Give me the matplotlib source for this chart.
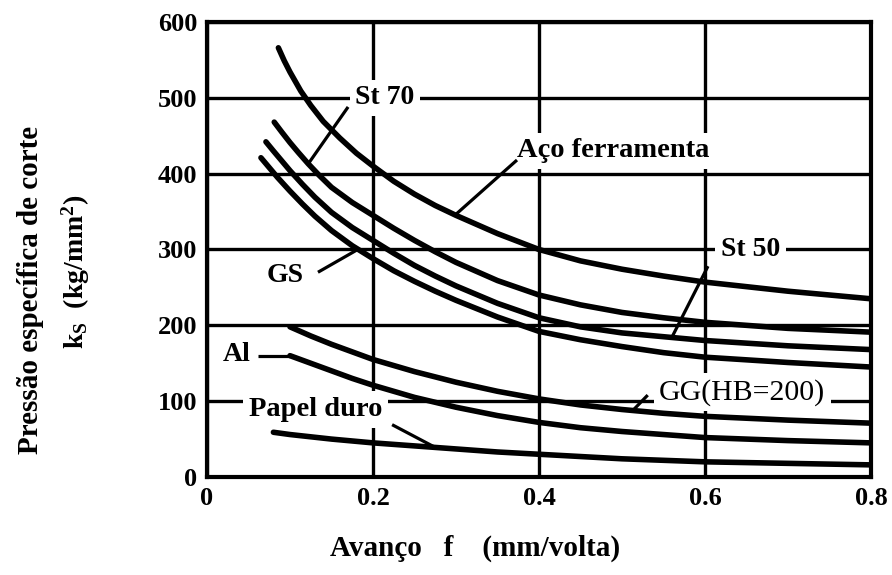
import numpy as np
import matplotlib
matplotlib.use("Agg")
import matplotlib.pyplot as plt

plt.rcParams['font.family'] = ['Liberation Serif', 'DejaVu Serif']
plt.rcParams['font.weight'] = 'bold'
plt.rcParams['mathtext.fontset'] = 'custom'
plt.rcParams['mathtext.rm'] = 'Liberation Serif:bold'
plt.rcParams['mathtext.it'] = 'Liberation Serif:bold'
plt.rcParams['mathtext.default'] = 'rm'

# ---- data (feed f in mm/rev, specific cutting pressure ks in kg/mm^2) ----
aco_x = [0.086, 0.093, 0.10, 0.113, 0.125, 0.14, 0.16, 0.18, 0.20, 0.225, 0.25,
         0.275, 0.30, 0.35, 0.40, 0.45, 0.50, 0.55, 0.60, 0.70, 0.80]
aco_y = [566, 549, 534, 509, 490, 469, 447, 427, 410, 390, 373,
         358, 345, 321, 300, 285, 274, 265, 257, 245, 235]

st70_x = [0.081, 0.09, 0.10, 0.11, 0.122, 0.135, 0.15, 0.175, 0.20, 0.225, 0.25,
          0.275, 0.30, 0.35, 0.40, 0.45, 0.50, 0.55, 0.60, 0.70, 0.80]
st70_y = [468, 455, 441, 428, 413, 398, 382, 362, 345, 328, 312,
          297, 283, 259, 240, 227, 217, 210, 204, 196, 191]

st50_x = [0.071, 0.08, 0.09, 0.10, 0.115, 0.13, 0.15, 0.175, 0.20, 0.225, 0.25,
          0.275, 0.30, 0.35, 0.40, 0.45, 0.50, 0.55, 0.60, 0.70, 0.80]
st50_y = [442, 430, 417, 404, 386, 369, 349, 329, 312, 295, 279,
          265, 252, 229, 210, 198, 190, 185, 180, 173, 168]

gs_x = [0.065, 0.075, 0.085, 0.10, 0.115, 0.13, 0.15, 0.175, 0.20, 0.225, 0.25,
        0.275, 0.30, 0.35, 0.40, 0.45, 0.50, 0.55, 0.60, 0.70, 0.80]
gs_y = [421, 408, 395, 377, 360, 344, 325, 305, 288, 272, 258,
        245, 233, 211, 192, 181, 172, 164, 158, 151, 145]

gg_x = [0.10, 0.125, 0.15, 0.175, 0.20, 0.25, 0.30, 0.35, 0.40, 0.45, 0.50,
        0.55, 0.60, 0.70, 0.80]
gg_y = [198, 186, 175, 165, 155, 139, 125, 113, 103, 95, 89,
        84, 80, 75, 71]

al_x = [0.10, 0.125, 0.15, 0.175, 0.20, 0.25, 0.30, 0.35, 0.40, 0.45, 0.50,
        0.55, 0.60, 0.70, 0.80]
al_y = [160, 150, 140, 130, 121, 105, 92, 81, 72, 65, 60,
        56, 52, 48, 45]

papel_x = [0.08, 0.10, 0.15, 0.20, 0.25, 0.30, 0.35, 0.40, 0.50, 0.60, 0.70, 0.80]
papel_y = [59, 56, 50, 45, 41, 37, 33, 30, 24, 20, 18, 16]

x_ticks = [0, 0.2, 0.4, 0.6, 0.8]
x_tick_labels = ['0', '0.2', '0.4', '0.6', '0.8']
y_ticks = [0, 100, 200, 300, 400, 500, 600]
y_tick_labels = ['0', '100', '200', '300', '400', '500', '600']

curves = [
    ('Aço ferramenta', aco_x, aco_y),
    ('St 70', st70_x, st70_y),
    ('St 50', st50_x, st50_y),
    ('GS', gs_x, gs_y),
    ('GG(HB=200)', gg_x, gg_y),
    ('Al', al_x, al_y),
    ('Papel duro', papel_x, papel_y),
]

# label: (text position, leader start, leader end x on the curve, ha, weight, size)
labels = {
    'St 70': ((0.2145, 500), (0.170, 488), 0.122, 'center', 'bold', 20),
    'Aço ferramenta': ((0.374, 430), (0.3735, 418), 0.299, 'left', 'bold', 20.5),
    'St 50': ((0.655, 300), (0.6036, 278), 0.560, 'center', 'bold', 20),
    'GS': ((0.094, 266), (0.1337, 270), 0.182, 'center', 'bold', 20),
    'Al': ((0.036, 161), (0.0614, 160), 0.100, 'center', 'bold', 20),
    'Papel duro': ((0.131, 89), (0.223, 69), 0.275, 'center', 'bold', 20.5),
    'GG(HB=200)': ((0.645, 112), (0.531, 108), 0.513, 'center', 'normal', 21.5),
}

fig = plt.figure(figsize=(8.92, 5.75), dpi=100)
ax = fig.add_axes([207 / 892, 98 / 575, 664 / 892, 455 / 575])

ax.set_xlim(0, 0.8)
ax.set_ylim(0, 600)
ax.set_xticks(x_ticks)
ax.set_xticklabels(x_tick_labels)
ax.set_yticks(y_ticks)
ax.set_yticklabels(y_tick_labels)
ax.tick_params(length=0, labelsize=19, pad=7)
for lab in ax.get_xticklabels() + ax.get_yticklabels():
    lab.set_fontweight('bold')

ax.set_axisbelow(True)
ax.grid(True, color='black', linewidth=2.4)
for sp in ax.spines.values():
    sp.set_linewidth(3.0)
    sp.set_zorder(6)

for name, xs, ys in curves:
    ax.plot(xs, ys, color='black', linewidth=4.0, solid_capstyle='round',
            solid_joinstyle='round', zorder=4)
    (tx, ty), (sx, sy), ex, ha, wt, fs = labels[name]
    ey = float(np.interp(ex, xs, ys))
    ax.plot([sx, ex], [sy, ey], color='black', linewidth=2.3, zorder=4,
            solid_capstyle='butt')
    ax.text(tx, ty, name, ha=ha, va='center', fontsize=fs, fontweight=wt,
            zorder=3, bbox=dict(facecolor='white', edgecolor='none', pad=4))

fig.text(475 / 892, 1 - 548 / 575, 'Avanço   f    (mm/volta)', ha='center',
         va='center', fontsize=21, fontweight='bold')
fig.text(31 / 892, 1 - 290 / 575, 'Pressão específica de corte', rotation=90,
         ha='center', va='center', fontsize=21, fontweight='bold')
fig.text(76 / 892, 1 - 272 / 575, r'k$_{\mathregular{S}}$  (kg/mm$^{\mathregular{2}}$)',
         rotation=90, ha='center', va='center', fontsize=20, fontweight='bold')

fig.savefig('out.png', dpi=100)
